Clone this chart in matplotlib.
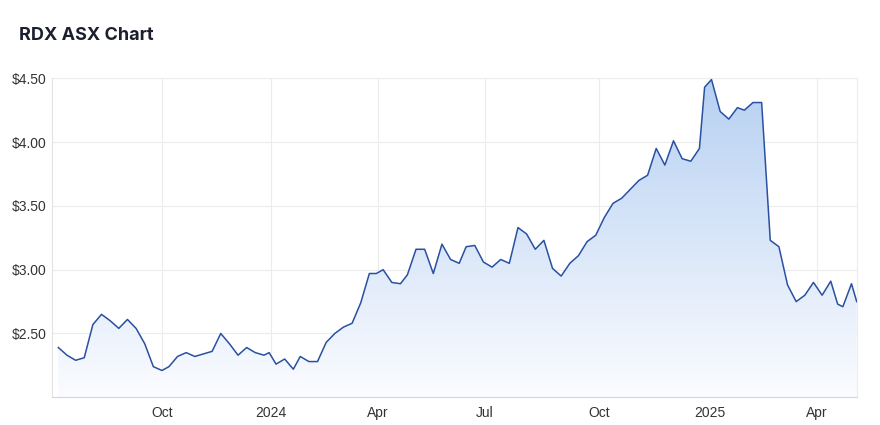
import numpy as np
import matplotlib
matplotlib.use("Agg")
import matplotlib.pyplot as plt
from matplotlib.colors import LinearSegmentedColormap

# Precio semanal de RDX (cierre del viernes, o del último día hábil de la semana)
fechas = [
    "2023-07-07", "2023-07-14", "2023-07-21", "2023-07-28", "2023-08-04", "2023-08-11",
    "2023-08-18", "2023-08-25", "2023-09-01", "2023-09-08", "2023-09-15", "2023-09-22",
    "2023-09-29", "2023-10-06", "2023-10-13", "2023-10-20", "2023-10-27", "2023-11-03",
    "2023-11-10", "2023-11-17", "2023-11-24", "2023-12-01", "2023-12-08", "2023-12-15",
    "2023-12-22", "2023-12-29", "2024-01-05", "2024-01-12", "2024-01-19", "2024-01-25",
    "2024-02-02", "2024-02-09", "2024-02-16", "2024-02-23", "2024-03-01", "2024-03-08",
    "2024-03-15", "2024-03-22", "2024-03-28", "2024-04-05", "2024-04-12", "2024-04-19",
    "2024-04-26", "2024-05-03", "2024-05-10", "2024-05-17", "2024-05-24", "2024-05-31",
    "2024-06-07", "2024-06-14", "2024-06-21", "2024-06-28", "2024-07-05", "2024-07-12",
    "2024-07-19", "2024-07-26", "2024-08-02", "2024-08-09", "2024-08-16", "2024-08-23",
    "2024-08-30", "2024-09-06", "2024-09-13", "2024-09-20", "2024-09-27", "2024-10-04",
    "2024-10-11", "2024-10-18", "2024-10-25", "2024-11-01", "2024-11-08", "2024-11-15",
    "2024-11-22", "2024-11-29", "2024-12-06", "2024-12-13", "2024-12-20", "2024-12-27",
    "2025-01-03", "2025-01-10", "2025-01-17", "2025-01-24", "2025-01-31", "2025-02-07",
    "2025-02-14", "2025-02-21", "2025-02-28", "2025-03-07", "2025-03-14", "2025-03-21",
    "2025-03-28", "2025-04-04", "2025-04-11", "2025-04-17", "2025-04-24", "2025-05-02",
    "2025-05-07",
]
precios = [
    2.39, 2.33, 2.29, 2.31, 2.57, 2.65,
    2.60, 2.54, 2.61, 2.54, 2.42, 2.24,
    2.21, 2.24, 2.32, 2.35, 2.32, 2.34,
    2.36, 2.50, 2.42, 2.33, 2.39, 2.35,
    2.33, 2.35, 2.26, 2.30, 2.22, 2.32,
    2.28, 2.28, 2.43, 2.50, 2.55, 2.58,
    2.74, 2.97, 2.97, 3.00, 2.90, 2.89,
    2.96, 3.16, 3.16, 2.97, 3.20, 3.08,
    3.05, 3.18, 3.19, 3.06, 3.02, 3.08,
    3.05, 3.33, 3.28, 3.16, 3.23, 3.01,
    2.95, 3.05, 3.11, 3.22, 3.27, 3.41,
    3.52, 3.56, 3.63, 3.70, 3.74, 3.95,
    3.82, 4.01, 3.87, 3.85, 3.95, 4.43,
    4.49, 4.24, 4.18, 4.27, 4.25, 4.31,
    4.31, 3.23, 3.18, 2.88, 2.75, 2.80,
    2.90, 2.80, 2.91, 2.73, 2.71, 2.89,
    2.75,
]

# Etiquetas del eje x (inicio de mes)
fechas_ticks = ["2023-10-01", "2024-01-01", "2024-04-01", "2024-07-01",
                "2024-10-01", "2025-01-01", "2025-04-01"]
etiquetas_x = ["Oct", "2024", "Apr", "Jul", "Oct", "2025", "Apr"]

valores_y = [2.5, 3.0, 3.5, 4.0, 4.5]

# Festivos del ASX: el eje x cuenta días de mercado, no días de calendario
festivos_asx = [
    "2023-12-25", "2023-12-26", "2024-01-01", "2024-01-26", "2024-03-29", "2024-04-01",
    "2024-04-25", "2024-06-10", "2024-12-25", "2024-12-26", "2025-01-01", "2025-01-27",
    "2025-04-18", "2025-04-21", "2025-04-25",
]


def dias_mercado(lista_fechas):
    d = np.array(lista_fechas, dtype="datetime64[D]")
    return np.busday_count(np.datetime64("2023-10-01"), d, holidays=festivos_asx)


x = dias_mercado(fechas)
x_ticks = dias_mercado(fechas_ticks)
y = np.array(precios)

fig = plt.figure(figsize=(8.8, 4.25), dpi=100)
ax = fig.add_axes([0.0588, 0.0652, 0.9147, 0.7506])

y_min, y_max = 2.0, 4.5
x_min, x_max = x[0] - 3.8, x[-1]

# Relleno con degradado recortado bajo la línea
degradado = np.linspace(0, 1, 256).reshape(-1, 1)
cmap = LinearSegmentedColormap.from_list("relleno", ["#fbfcff", "#b6d0f2"])
im = ax.imshow(degradado, cmap=cmap, aspect="auto", origin="lower",
               extent=[x_min, x_max, y_min, y_max], zorder=1)
area = ax.fill_between(x, y, y_min, color="none", linewidth=0)
im.set_clip_path(area.get_paths()[0], transform=ax.transData)

ax.plot(x, y, color="#2a50a2", linewidth=1.1, zorder=3)

ax.set_xlim(x_min, x_max)
ax.set_ylim(y_min, y_max)

ax.set_xticks(x_ticks)
ax.set_xticklabels(etiquetas_x)
ax.set_yticks(valores_y)
ax.set_yticklabels([f"${v:.2f}" for v in valores_y])

ax.grid(True, color="#ececec", linewidth=0.8, zorder=0)
ax.set_axisbelow(True)
ax.tick_params(length=0, labelsize=10, labelcolor="#333333")
ax.tick_params(axis="y", pad=4)
ax.tick_params(axis="x", pad=6)
for lbl in ax.get_xticklabels() + ax.get_yticklabels():
    lbl.set_family(["Liberation Sans", "DejaVu Sans"])

ax.spines["top"].set_visible(False)
ax.spines["left"].set_color("#e2e2e2")
ax.spines["right"].set_color("#ececec")
ax.spines["bottom"].set_color("#d6d6d6")

fig.text(0.0216, 0.906, "RDX ASX Chart", fontsize=13, fontweight="bold",
         color="#1b1f2e", family=["Inter", "DejaVu Sans"], va="baseline")

fig.savefig("out.png", dpi=100, facecolor="white")
